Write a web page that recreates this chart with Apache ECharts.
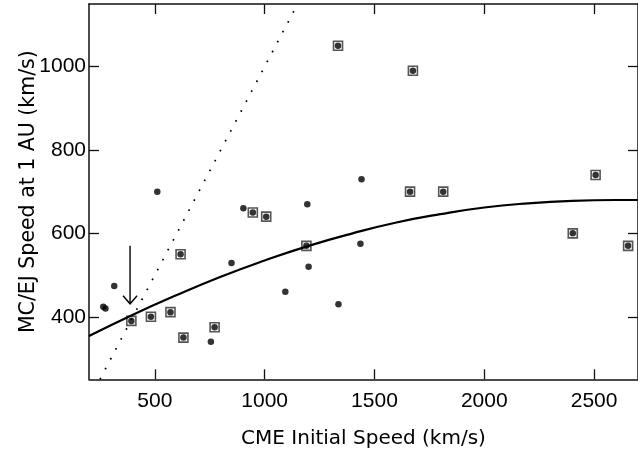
<!DOCTYPE html>
<html>
<head>
<meta charset="utf-8">
<script src="https://cdn.jsdelivr.net/npm/echarts@6/dist/echarts.min.js"></script>
<style>
html,body{margin:0;padding:0;background:#fff;}
#chart{width:638px;height:457px;}
</style>
</head>
<body>
<div id="chart"></div>
<script>
// Boxed events (square + dot)
const boxedX = [393, 482, 571, 617, 630, 772, 946, 1007, 1190, 1334, 1662, 1675, 1813, 2403, 2507, 2655];
const boxedY = [390, 400, 411, 550, 350, 375, 650, 640, 570, 1050, 700, 990, 700, 600, 740, 570];
// Plain events (dot only)
const plainX = [265, 275, 315, 511, 755, 849, 903, 1094, 1194, 1200, 1336, 1436, 1441];
const plainY = [424, 420, 474, 700, 340, 529, 660, 460, 670, 520, 430, 575, 730];
// Fitted curve
const fitX = [200, 400, 600, 800, 1000, 1200, 1400, 1600, 1800, 2000, 2200, 2400, 2600, 2700];
const fitY = [354, 405, 452, 496, 535, 570, 600, 626, 646, 662, 672, 678, 680, 680];
// Dotted y = x reference line
const diagX = [250, 1150];
const diagY = [250, 1150];
// Arrow annotation: x, top, tip
const arrowX = 387, arrowTop = 570, arrowTip = 431;
// Tick values
const xTicks = [500, 1000, 1500, 2000, 2500];
const yTicks = [400, 600, 800, 1000];

const zip = (a, b) => a.map((v, i) => [v, b[i]]);
const FONT = "'Liberation Sans', Arial, Helvetica, sans-serif";
const TFONT = "'DejaVu Sans', 'Liberation Sans', sans-serif";
const axisLine = { show: true, onZero: false, lineStyle: { color: '#111', width: 1.5 } };
const tick = { show: true, inside: true, length: 10, lineStyle: { color: '#111', width: 1.3 } };
const plain = v => String(v);

const chart = echarts.init(document.getElementById('chart'));
chart.setOption({
  animation: false,
  backgroundColor: '#fff',
  grid: { left: 89, top: 4, width: 558, height: 375.3, containLabel: false },
  xAxis: [
    {
      type: 'value', min: 200, max: 2700, position: 'bottom',
      axisLine: axisLine,
      axisTick: Object.assign({}, tick, { customValues: xTicks }),
      axisLabel: { customValues: xTicks, formatter: plain, margin: 11, fontSize: 21, color: '#000', fontFamily: FONT },
      splitLine: { show: false },
      name: 'CME Initial Speed (km/s)', nameLocation: 'middle', nameGap: 49,
      nameTextStyle: { fontSize: 20, color: '#000', fontFamily: TFONT }
    },
    {
      type: 'value', min: 200, max: 2700, position: 'top',
      axisLine: axisLine,
      axisTick: Object.assign({}, tick, { customValues: xTicks }),
      axisLabel: { show: false },
      splitLine: { show: false }
    }
  ],
  yAxis: [
    {
      type: 'value', min: 250, max: 1150, position: 'left',
      axisLine: axisLine,
      axisTick: Object.assign({}, tick, { customValues: yTicks }),
      axisLabel: { customValues: yTicks, formatter: plain, margin: 3, fontSize: 21, color: '#000', fontFamily: FONT },
      splitLine: { show: false },
      name: 'MC/EJ Speed at 1 AU (km/s)', nameLocation: 'middle', nameGap: 50, nameRotate: 90,
      nameMoveOverlap: false,
      nameTextStyle: { fontSize: 20.5, color: '#000', fontFamily: TFONT }
    },
    {
      type: 'value', min: 250, max: 1150, position: 'right',
      axisLine: axisLine,
      axisTick: Object.assign({}, tick, { customValues: yTicks }),
      axisLabel: { show: false },
      splitLine: { show: false }
    }
  ],
  series: [
    {
      type: 'line', data: zip(diagX, diagY), symbol: 'none', silent: true,
      lineStyle: { color: '#000', width: 1.7, type: [1.7, 9.5] }
    },
    {
      type: 'line', data: zip(fitX, fitY), symbol: 'none', smooth: true, silent: true,
      lineStyle: { color: '#000', width: 2.2 }
    },
    {
      type: 'scatter', data: zip(boxedX, boxedY), symbol: 'rect', symbolSize: 9,
      itemStyle: { color: 'rgba(0,0,0,0)', borderColor: '#2a2a2a', borderWidth: 1.6 }
    },
    {
      type: 'scatter', data: zip(boxedX, boxedY).concat(zip(plainX, plainY)), symbol: 'circle', symbolSize: 6.5,
      itemStyle: { color: '#000' }
    },
    {
      type: 'custom', data: [[arrowX, arrowTop, arrowTip]], encode: { x: 0, y: 1 },
      renderItem: function (params, api) {
        const p0 = api.coord([api.value(0), api.value(1)]);
        const p1 = api.coord([api.value(0), api.value(2)]);
        return {
          type: 'group',
          children: [
            { type: 'line', shape: { x1: p0[0], y1: p0[1], x2: p1[0], y2: p1[1] },
              style: { stroke: '#000', lineWidth: 1.4 } },
            { type: 'polyline', shape: { points: [[p1[0] - 7, p1[1] - 8], [p1[0], p1[1]], [p1[0] + 7, p1[1] - 8]] },
              style: { stroke: '#000', fill: null, lineWidth: 1.4 } }
          ]
        };
      }
    }
  ]
});
</script>
</body>
</html>
